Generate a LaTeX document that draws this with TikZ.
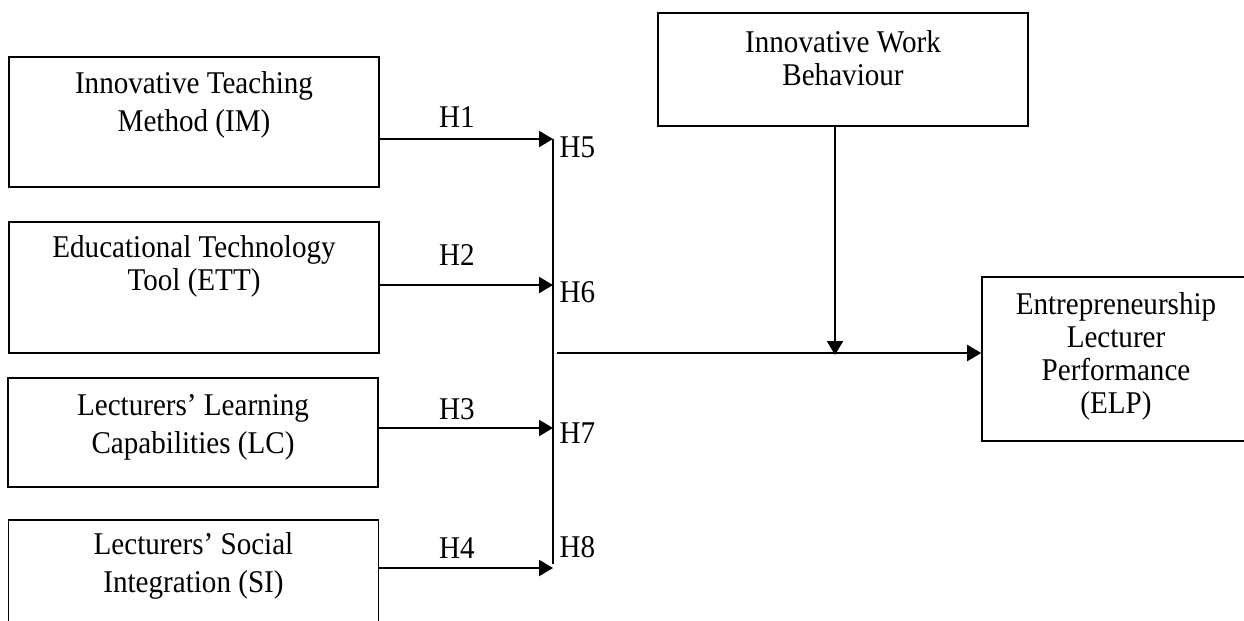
\documentclass[tikz,border=0pt]{standalone}
\usepackage{fontspec}
\setmainfont[FakeStretch=0.92]{Liberation Serif}
\usetikzlibrary{arrows.meta,positioning}

\begin{document}
\begin{tikzpicture}[x=0.1mm,y=-0.1mm]
\tikzstyle{every node}+=[inner sep=0pt, font=\fontsize{9}{10.8}\selectfont]
\tikzstyle{box}=[draw=black, line width=0.45pt, minimum width=37mm]
\tikzstyle{txt}=[align=center]
\tikzstyle{tight}=[align=center, font=\fontsize{9}{9.4}\selectfont]
\tikzstyle{arr}=[line width=0.6pt, -{Triangle[length=1.4mm,width=1.6mm]}]
\useasboundingbox (0,0) rectangle (1244,620);
\clip (0,0) rectangle (1244,620);
% independent variables
\node [box, minimum height=13mm] (im) at (194,122) {};
\node [txt] (imtext) at (194,104.5) {Innovative Teaching\\Method (IM)};
\node [box, minimum height=13.1mm] (ett) at (194,287.5) {};
\node [tight] (etttext) at (194,266.5) {Educational Technology\\Tool (ETT)};
\node [box, minimum height=10.9mm] (lc) at (193,432.5) {};
\node [txt] (lctext) at (193,427) {Lecturers' Learning\\Capabilities (LC)};
\node [box, minimum height=13mm] (si) at (193.5,585) {};
\node [txt] (sitext) at (193.5,566) {Lecturers' Social\\Integration (SI)};
% moderator and outcome
\node [box, minimum height=11.3mm] (iwb) at (843,69.5) {};
\node [tight] (iwbtext) at (843,58.5) {Innovative Work\\Behaviour};
\node [box, minimum width=26.8mm, minimum height=16.4mm] (elp) at (1116,359) {};
\node [tight] (elptext) at (1116,356) {Entrepreneurship\\Lecturer\\Performance\\(ELP)};
% bus
\coordinate (j1) at (553,139);
\coordinate (j2) at (553,285);
\coordinate (j3) at (553,428);
\coordinate (j4) at (553,568);
\coordinate (out) at (557,353);
\coordinate (mod) at (835,355);
\draw [line width=0.45pt] (j1) -- ([yshift=1]j4);
\draw [arr] (im.east |- j1) -- (j1);
\draw [arr] (ett.east |- j2) -- (j2);
\draw [arr] (lc.east |- j3) -- (j3);
\draw [arr] (si.east |- j4) -- (j4);
\draw [arr] (out) -- (elp.west |- out);
\draw [arr] (iwb.south -| mod) -- (mod);
% hypotheses
\node (h1) at (457,117) {H1};
\node (h2) at (457,255) {H2};
\node (h3) at (457,409) {H3};
\node (h4) at (457,548) {H4};
\node [anchor=west] (h5) at (559,147) {H5};
\node [anchor=west] (h6) at (559,292) {H6};
\node [anchor=west] (h7) at (559,433) {H7};
\node [anchor=west] (h8) at (559,547) {H8};
\end{tikzpicture}
\end{document}
